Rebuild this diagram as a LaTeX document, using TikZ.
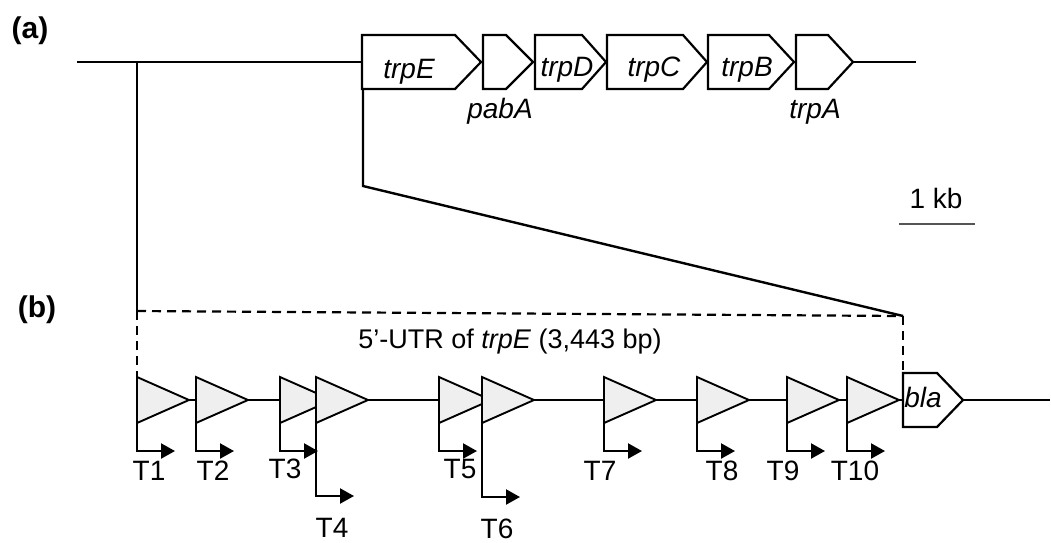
\documentclass[tikz,border=0pt]{standalone}
\usepackage{fontspec}
\setmainfont{Liberation Sans}
\usetikzlibrary{arrows.meta}
\definecolor{trifill}{HTML}{EFEFEF}
\definecolor{scalegray}{HTML}{555555}
\tikzset{
  dna/.style={line width=2.4pt},
  genebox/.style={line width=2.2pt, fill=white, line join=miter},
  prom/.style={line width=1.9pt, fill=trifill, line join=miter},
  tss/.style={line width=2.2pt, -{Triangle[length=14pt,width=15pt]}},
  dashline/.style={line width=2.2pt, dash pattern=on 9pt off 6pt},
  lbl/.style={font=\fontsize{28}{32}\selectfont, inner sep=0pt, anchor=base},
  glbl/.style={font=\fontsize{28}{32}\selectfont\itshape, inner sep=0pt, anchor=base},
  panel/.style={font=\fontsize{30}{32}\selectfont\bfseries, inner sep=0pt, anchor=base},
}
\begin{document}
\begin{tikzpicture}[x=1pt,y=-1pt]
\useasboundingbox (0,0) rectangle (1051,542);

% ---------- panel (a) ----------
\node[panel] (pa) at (30,38) {(a)};
\coordinate (a0) at (77,62);
\coordinate (aE) at (362,62);
\coordinate (aEnd) at (916,62);
\coordinate (aTip) at (853,62);
\draw[dna] (a0) -- (aE);
\draw[dna] (aTip) -- (aEnd);

\draw[genebox] (362,35) -- (455,35) -- (481,62) -- (455,89) -- (362,89) -- cycle;
\draw[genebox] (483,35) -- (506,35) -- (533,62) -- (506,89) -- (483,89) -- cycle;
\draw[genebox] (535,35) -- (582,35) -- (606,62) -- (582,89) -- (535,89) -- cycle;
\draw[genebox] (607,35) -- (683,35) -- (707,62) -- (683,89) -- (607,89) -- cycle;
\draw[genebox] (708,35) -- (769,35) -- (794,62) -- (769,89) -- (708,89) -- cycle;
\draw[genebox] (796,35) -- (828,35) -- (853,62) -- (828,89) -- (796,89) -- cycle;

\node[glbl] (trpE) at (409,78) {trpE};
\node[glbl] (pabA) at (500,118) {pabA};
\node[glbl] (trpD) at (567,76) {trpD};
\node[glbl] (trpC) at (654,76) {trpC};
\node[glbl] (trpB) at (747,76) {trpB};
\node[glbl] (trpA) at (815,118) {trpA};

% scale bar
\node[lbl] (kb) at (936,208) {1 kb};
\coordinate (sb1) at (899,224);
\coordinate (sb2) at (975,224);
\draw[line width=2pt, scalegray] (sb1) -- (sb2);

% ---------- zoom lines ----------
\coordinate (zl0) at (137,62);
\coordinate (zl1) at (137,311);
\coordinate (zr0) at (363,89);
\coordinate (zr1) at (363,186);
\coordinate (zr2) at (903,316);
\coordinate (dl) at (137,377);
\coordinate (dr) at (903,373);
\draw[dna] (zl0) -- (zl1);
\draw[dna, line join=miter] (zr0) -- (zr1) -- (zr2);
\draw[dashline] (zl1) -- (zr2);
\draw[dashline] (zl1) -- (dl);
\draw[dashline] (zr2) -- (dr);

\node[panel] (pb) at (37,317) {(b)};
\node[lbl, font=\fontsize{27}{30}\selectfont] (utr) at (510,348) {5’-UTR of \textit{trpE} (3,443 bp)};

% ---------- panel (b) ----------
\coordinate (b0) at (137,400);
\coordinate (bla0) at (903,400);
\coordinate (bla1) at (963,400);
\coordinate (bEnd) at (1050,400);
\draw[dna] (b0) -- (bla0);
\draw[dna] (bla1) -- (bEnd);

\foreach \n/\x/\ay/\lx/\ly in {1/137/451/149/480, 2/196/451/213/480, 3/280/451/285/478,
    4/316/496/332/537, 5/439/451/460/478, 6/482/497/497/538, 7/604/451/600/480,
    8/697/451/722/480, 9/787/451/783/480, 10/847/451/855/480} {
  \draw[prom] (\x,377) -- (\x+52,400) -- (\x,423) -- cycle;
  \coordinate (pb\n) at (\x,423);
  \coordinate (pt\n) at (\x+38,\ay);
  \draw[tss] (pb\n) |- (pt\n);
  \node[lbl] (T\n) at (\lx,\ly) {T\n};
}

\draw[genebox] (903,373) -- (937,373) -- (963,400) -- (937,427) -- (903,427) -- cycle;
\node[glbl] (bla) at (923,407) {bla};
\end{tikzpicture}
\end{document}
